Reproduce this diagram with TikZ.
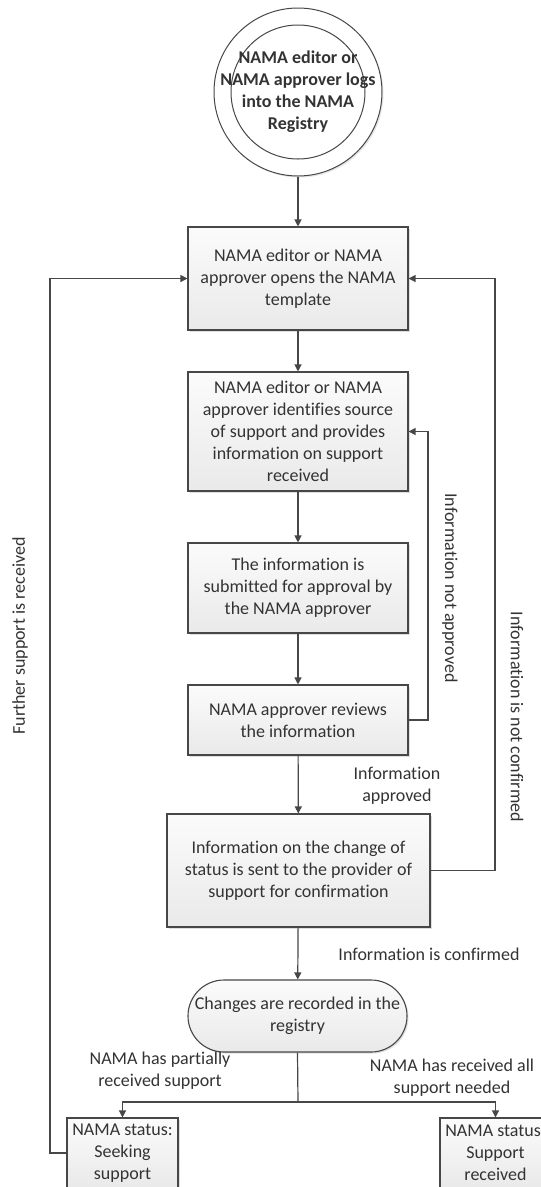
\documentclass[tikz,border=0pt]{standalone}
\usepackage{fontspec}
\setmainfont{Carlito}[Ligatures=NoCommon]
\usetikzlibrary{arrows.meta,shapes.misc,shadows}
\definecolor{ln}{HTML}{474747}
\definecolor{txt}{HTML}{333333}
\begin{document}
\begin{tikzpicture}[x=1bp,y=-1bp,
  every node/.style={font=\fontsize{18bp}{22bp}\selectfont, text=txt, align=center},
  flowbox/.style={draw=ln, line width=1.1bp, top color=gray!3, bottom color=gray!17, inner sep=0pt,
    drop shadow={shadow xshift=1.5bp,shadow yshift=-1.5bp,opacity=0.25}},
  ring/.style={circle, draw=ln, line width=1bp, inner sep=0pt},
  conn/.style={draw=ln, line width=1.2bp},
  arr/.style={conn, -{Triangle[width=7bp,length=7bp]}},
]
\useasboundingbox (0,0) rectangle (541,1187);
\fill[white] (0,0) rectangle (541,1187);

% start
\node[ring, fill=white, minimum size=168bp, drop shadow={shadow xshift=1.5bp,shadow yshift=-1.5bp,opacity=0.2}] (start) at (298,92) {};
\node[ring, minimum size=134bp] (startin) at (298,92) {};
\node[font=\bfseries\fontsize{18bp}{22bp}\selectfont] (starttxt) at (298,92) {NAMA editor or\\NAMA approver logs\\into the NAMA\\Registry};

% process boxes
\node[flowbox, minimum width=220bp, minimum height=103bp] (b1) at (298,278.5) {NAMA editor or NAMA\\approver opens the NAMA\\template};
\node[flowbox, minimum width=220bp, minimum height=119bp] (b2) at (298,431.5) {NAMA editor or NAMA\\approver identifies source\\of support and provides\\information on support\\received};
\node[flowbox, minimum width=220bp, minimum height=90bp] (b3) at (298,588) {The information is\\submitted for approval by\\the NAMA approver};
\node[flowbox, minimum width=220bp, minimum height=70bp] (b4) at (298,720) {NAMA approver reviews\\the information};
\node[flowbox, minimum width=263bp, minimum height=113bp] (b5) at (298.5,870.5) {Information on the change of\\status is sent to the provider of\\support for confirmation};
\node[flowbox, rounded rectangle, minimum width=219bp, minimum height=72bp] (term) at (297.5,1016) {Changes are recorded in the\\registry};
\node[flowbox, minimum width=111bp, minimum height=70bp] (bl) at (122.5,1153) {NAMA status:\\Seeking\\support};
\node[flowbox, minimum width=111bp, minimum height=70bp] (br) at (495.5,1153) {NAMA status:\\Support\\received};

% main flow
\draw[arr] (start) -- (b1);
\draw[arr] (b1) -- (b2);
\draw[arr] (b2) -- (b3);
\draw[arr] (b3) -- (b4);
\draw[arr] (b4) -- (b5);
\draw[arr] (b5) -- (term);
\coordinate (j) at (298,1102);
\draw[conn] (term.south) -- (j);
\draw[arr] (j) -| (bl.north);
\draw[arr] (j) -| (br.north);

% feedback loops
\draw[arr] (b4.east) -- (428,720) |- (b2.east);
\draw[arr] (b5.east) -- (495,870.5) |- (b1.east);
\draw[arr] (bl.west) -- (50,1153) |- (b1.west);

% labels
\node[rotate=-90] (lna) at (450,588) {Information not approved};
\node[rotate=-90] (lnc) at (517,717) {Information is not confirmed};
\node[rotate=90] (lfs) at (20,636) {Further support is received};
\node (lap) at (397,786) {Information\\approved};
\node (lic) at (429,954) {Information is confirmed};
\node (lpr) at (160,1071) {NAMA has partially\\received support};
\node (lra) at (452,1078) {NAMA has received all\\support needed};
\end{tikzpicture}
\end{document}
